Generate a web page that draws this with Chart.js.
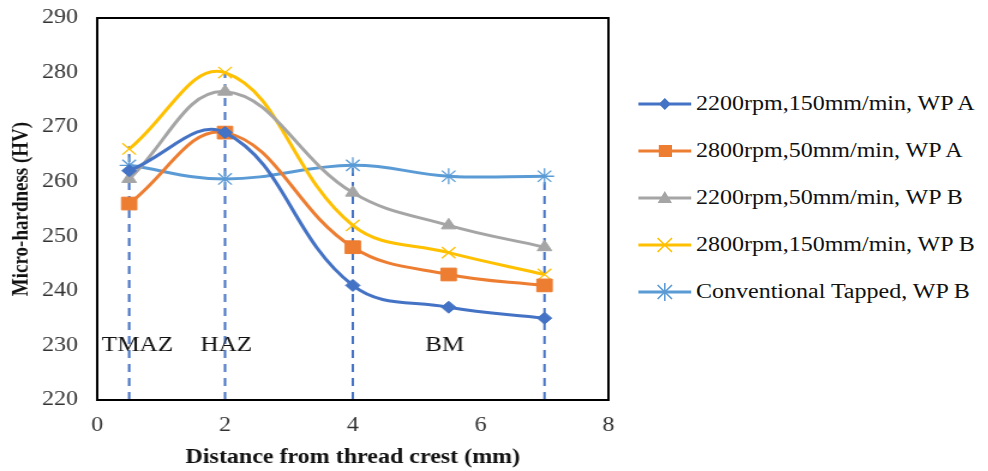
<!DOCTYPE html>
<html>
<head>
<meta charset="utf-8">
<script src="https://cdn.jsdelivr.net/npm/chart.js@4"></script>
<style>
  body { margin: 0; background: #fff; font-family: "Liberation Serif", serif; }
  #wrap { position: relative; width: 988px; height: 471px; overflow: hidden; }
  /* the source figure is stretched horizontally, so the chart is drawn narrow and widened */
  #chartBox { position: absolute; left: 0; top: -10px; width: 526px; height: 481px; transform: scaleX(1.2); transform-origin: 0 0; }
  #legend { position: absolute; left: 636px; top: 80px; transform: scaleX(1.2); transform-origin: 0 0; }
  .item { display: flex; align-items: center; height: 47px; font-size: 20px; color: #111; white-space: nowrap; }
</style>
</head>
<body>
<div id="wrap">
  <div id="chartBox"><canvas id="hardnessChart"></canvas></div>
  <div id="legend"></div>
</div>
<script>
// Data
const distances = [0.5, 2, 4, 5.5, 7];
const seriesNames = [
    '2200rpm,150mm/min, WP A',
    '2800rpm,50mm/min, WP A',
    '2200rpm,50mm/min, WP B',
    '2800rpm,150mm/min, WP B',
    'Conventional Tapped, WP B'
];
const hvA2200 = [262, 269, 241, 237, 235];
const hvA2800 = [256, 269, 248, 243, 241];
const hvB2200 = [260.5, 276.5, 258, 252, 248];
const hvB2800 = [266, 280, 252, 247, 243];
const hvTapped = [263, 260.5, 263, 261, 261];

const xTicks = [0, 2, 4, 6, 8];
const yTicks = [220, 230, 240, 250, 260, 270, 280, 290];

// dashed zone markers and their labels
const dropX = [0.5, 2, 4, 7];
const dropTop = [266.5, 280, 263, 261];
const zoneLabels = ['TMAZ', 'HAZ', 'BM'];
const zoneX = [0.63, 2.02, 5.44];
const zoneY = 230;

const colors = ['#4472C4', '#ED7D31', '#A5A5A5', '#FFC000', '#5B9BD5'];
const markers = ['rectRot', 'rect', 'triangle', 'crossRot', 'star'];
const markerSize = [6, 9, 7, 8, 8];
const allValues = [hvA2200, hvA2800, hvB2200, hvB2800, hvTapped];

const makeDataset = (values, i) => ({
    label: seriesNames[i],
    data: distances.map((d, k) => ({ x: d, y: values[k] })),
    borderColor: colors[i],
    backgroundColor: colors[i],
    borderWidth: 3,
    pointStyle: markers[i],
    pointRadius: markerSize[i],
    pointBorderWidth: (markers[i] === 'crossRot' || markers[i] === 'star') ? 1.3 : 1,
    tension: 0.4,
    fill: false
});

// dashed drop lines + zone text, positioned through the scales
const zonePlugin = {
    id: 'zones',
    beforeDatasetsDraw(chart) {
        const { ctx, scales: { x, y } } = chart;
        ctx.save();
        ctx.strokeStyle = '#4472C4';
        ctx.lineWidth = 2;
        ctx.setLineDash([8, 6]);
        dropX.forEach((d, i) => {
            ctx.beginPath();
            ctx.moveTo(x.getPixelForValue(d), y.getPixelForValue(220));
            ctx.lineTo(x.getPixelForValue(d), y.getPixelForValue(dropTop[i]));
            ctx.stroke();
        });
        ctx.restore();
    },
    afterDatasetsDraw(chart) {
        const { ctx, scales: { x, y }, chartArea } = chart;
        ctx.save();
        ctx.fillStyle = '#111';
        ctx.font = '21px "Liberation Serif"';
        ctx.textAlign = 'center';
        ctx.textBaseline = 'middle';
        zoneLabels.forEach((t, i) => {
            ctx.fillText(t, x.getPixelForValue(zoneX[i]), y.getPixelForValue(zoneY));
        });
        // plot frame
        ctx.strokeStyle = '#000';
        ctx.lineWidth = 2;
        ctx.strokeRect(chartArea.left, chartArea.top, chartArea.right - chartArea.left, chartArea.bottom - chartArea.top);
        ctx.restore();
    }
};

const chart = new Chart(document.getElementById('hardnessChart'), {
    type: 'line',
    data: { datasets: allValues.map(makeDataset) },
    options: {
        responsive: true,
        maintainAspectRatio: false,
        animation: false,
        layout: { padding: { top: 4, right: 0, bottom: 0, left: 0 } },
        plugins: {
            legend: { display: false },
            tooltip: { enabled: false }
        },
        scales: {
            x: {
                type: 'linear',
                min: 0,
                max: 8,
                afterBuildTicks: s => { s.ticks = xTicks.map(v => ({ value: v })); },
                afterFit: s => { s.height = 71; },
                grid: { display: false, drawTicks: false },
                border: { display: false },
                ticks: {
                    padding: 14,
                    color: '#333',
                    font: { family: '"Liberation Serif"', size: 20 }
                },
                title: {
                    display: true,
                    text: 'Distance from thread crest (mm)',
                    color: '#111',
                    padding: { top: 4, bottom: 1 },
                    font: { family: '"Liberation Serif"', size: 20, weight: 'bold' }
                }
            },
            y: {
                min: 220,
                max: 290,
                afterBuildTicks: s => { s.ticks = yTicks.map(v => ({ value: v })); },
                afterFit: s => { s.width = 81; },
                grid: { display: false, drawTicks: false },
                border: { display: false },
                ticks: {
                    padding: 16,
                    color: '#333',
                    font: { family: '"Liberation Serif"', size: 20 }
                },
                title: {
                    display: true,
                    text: 'Micro-hardness (HV)',
                    color: '#111',
                    padding: { top: 7, bottom: 0 },
                    font: { family: '"Liberation Serif"', size: 19, weight: 'bold' }
                }
            }
        }
    },
    plugins: [zonePlugin]
});

// HTML legend with line + marker icons
const markerSvg = (style, c) => {
    switch (style) {
        case 'rectRot': return `<polygon points="24,4 29,10 24,16 19,10" fill="${c}"/>`;
        case 'rect': return `<rect x="19" y="4" width="11" height="12" fill="${c}"/>`;
        case 'triangle': return `<polygon points="24,3 30,15 18,15" fill="${c}"/>`;
        case 'crossRot': return `<path d="M18 3 L30 17 M30 3 L18 17" stroke="${c}" stroke-width="1.3"/>`;
        default: return `<path d="M18 3 L30 17 M30 3 L18 17 M24 1 L24 19" stroke="${c}" stroke-width="1.3"/>`;
    }
};
document.getElementById('legend').innerHTML = seriesNames.map((name, i) =>
    `<div class="item"><svg width="50" height="20"><line x1="2" y1="10" x2="46" y2="10" stroke="${colors[i]}" stroke-width="3"/>${markerSvg(markers[i], colors[i])}</svg>${name}</div>`
).join('');
</script>
</body>
</html>
